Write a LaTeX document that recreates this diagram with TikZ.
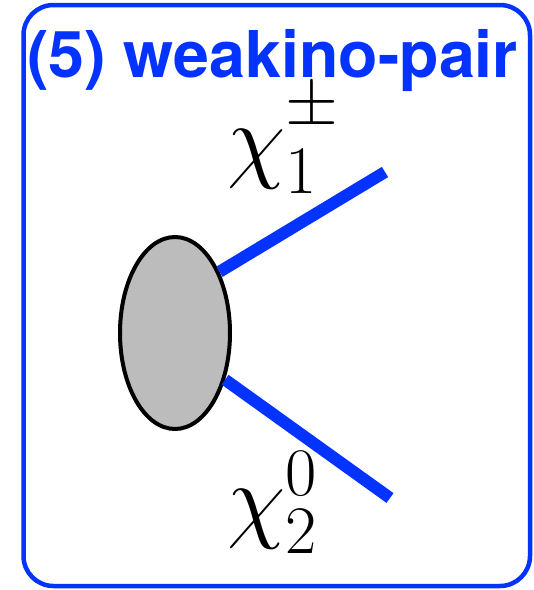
\RequirePackage{fix-cm}
\documentclass[tikz,border=0pt]{standalone}
\usepackage{fontspec}
\newfontfamily\titlefont{TeX Gyre Heros}
\usetikzlibrary{shapes.geometric}
\definecolor{weakblue}{RGB}{4,51,255}
\definecolor{blobgray}{RGB}{188,188,188}
\newcommand{\chiscript}[1]{\mbox{\fontsize{68}{68}\selectfont$#1$}}
\begin{document}
\begin{tikzpicture}[x=1pt,y=-1pt,line join=round,
    weakline/.style={color=weakblue,line width=12pt,line cap=butt},
    chilabel/.style={anchor=base west,inner sep=0pt,font=\fontsize{95}{95}\selectfont}]
			\useasboundingbox (0,0) rectangle (534,590);
			\draw[color=weakblue,line width=4.5pt,rounded corners=30pt] (23.5,5) rectangle (530,586);
			\node[anchor=base west,inner sep=0pt,text=weakblue,font=\titlefont\bfseries\fontsize{64.5}{64.5}\selectfont] (title) at (27,77) {(5) weakino-pair};
			% blob and the two weakinos
			\node[ellipse,draw=black,fill=blobgray,line width=4pt,inner sep=0pt,minimum width=110pt,minimum height=192pt] (blob) at (175,333) {};
			\coordinate (chiOneEnd) at (385,172);
			\coordinate (chiTwoEnd) at (390,498);
			\draw[weakline] (blob.54) -- (chiOneEnd);
			\draw[weakline] (blob.-43) -- (chiTwoEnd);
			\node[chilabel] (chiOne) at (227,170) {$\chi_{\chiscript{1}}^{\chiscript{\raisebox{11pt}{$\pm$}}}$};
			\node[chilabel] (chiTwo) at (227,530) {$\chi_{\chiscript{2}}^{\chiscript{0}}$};
		\end{tikzpicture}
\end{document}
